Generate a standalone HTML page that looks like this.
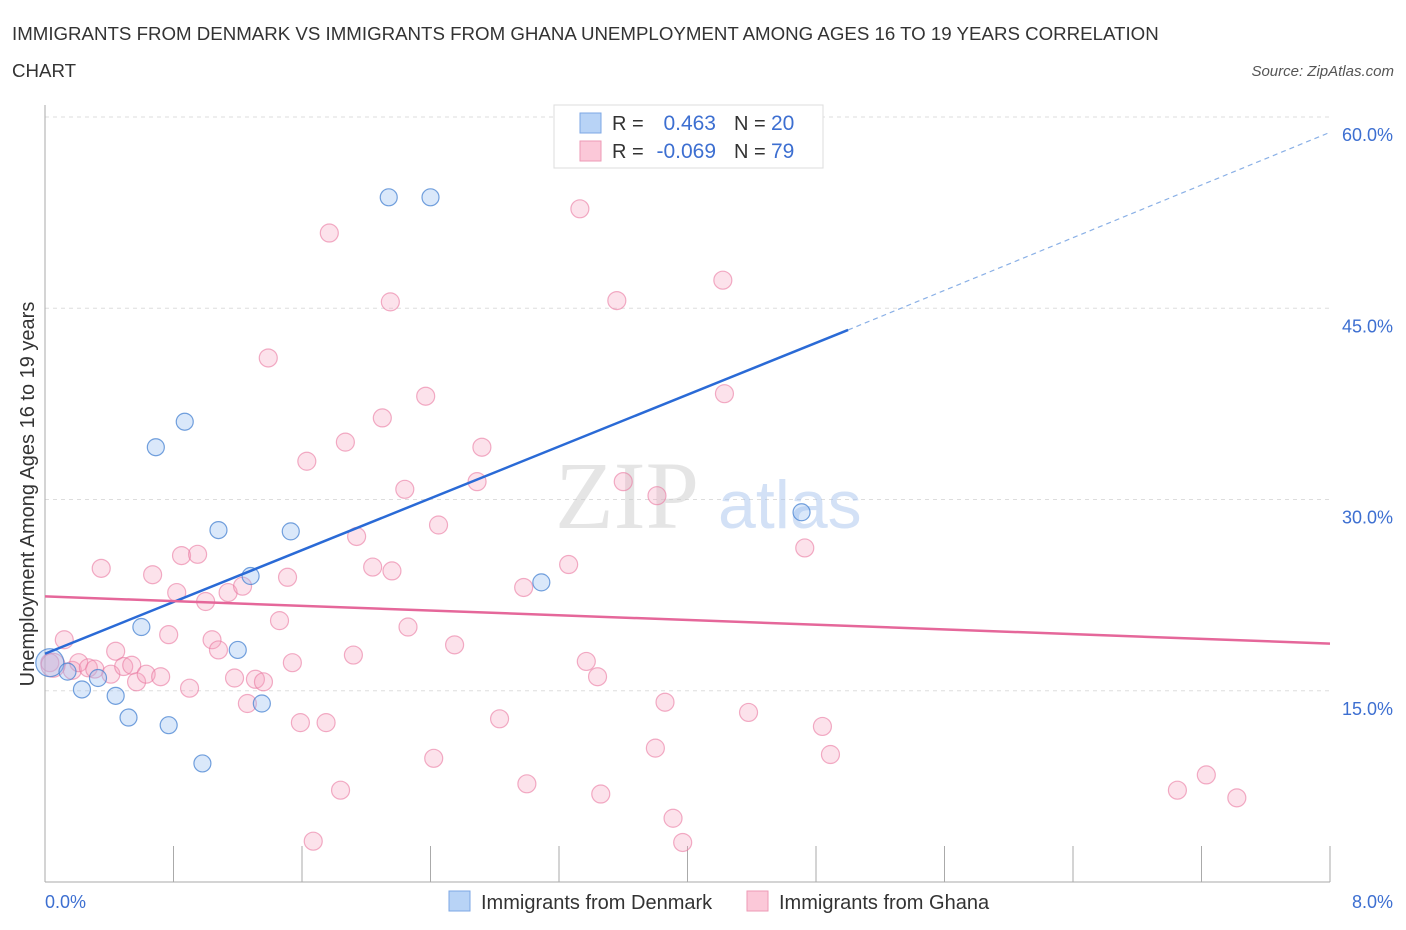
<!DOCTYPE html>
<html><head><meta charset="utf-8"><style>
body{margin:0;background:#fff;font-family:"Liberation Sans",sans-serif;}
svg{display:block}
</style></head><body>
<svg id="c" width="1406" height="930"></svg>
<script>
const blueX=[0.03,0.14,0.23,0.33,0.44,0.52,0.6,0.69,0.77,0.87,0.98,1.08,1.2,1.28,1.35,1.53,2.14,2.4,3.09,4.71];
const blueY=[17.2,16.5,15.1,16.0,14.6,12.9,20.0,34.1,12.3,36.1,9.3,27.6,18.2,24.0,14.0,27.5,53.7,53.7,23.5,29.0];
const pinkX=[0.03,0.12,0.17,0.21,0.27,0.31,0.35,0.41,0.44,0.49,0.54,0.57,0.63,0.67,0.72,0.77,0.82,0.85,0.9,0.95,1.0,1.04,1.08,1.14,1.18,1.23,1.26,1.31,1.36,1.39,1.46,1.51,1.54,1.59,1.63,1.67,1.75,1.77,1.84,1.87,1.92,1.94,2.04,2.1,2.15,2.16,2.24,2.26,2.37,2.42,2.45,2.55,2.69,2.72,2.83,2.98,3.0,3.26,3.33,3.37,3.44,3.46,3.56,3.6,3.8,3.81,3.86,3.91,3.97,4.22,4.23,4.38,4.73,4.84,4.89,7.05,7.23,7.42,0.05];
const pinkY=[17.2,19.0,16.6,17.2,16.8,16.7,24.6,16.3,18.1,16.9,17.0,15.7,16.3,24.1,16.1,19.4,22.7,25.6,15.2,25.7,22.0,19.0,18.2,22.7,16.0,23.2,14.0,15.9,15.7,41.1,20.5,23.9,17.2,12.5,33.0,3.2,12.5,50.9,7.2,34.5,17.8,27.1,24.7,36.4,45.5,24.4,30.8,20.0,38.1,9.7,28.0,18.6,31.4,34.1,12.8,23.1,7.7,24.9,52.8,17.3,16.1,6.9,45.6,31.4,10.5,30.3,14.1,5.0,3.1,47.2,38.3,13.3,26.2,12.2,10.0,7.2,8.4,6.6,17.0];
const ticksY=[15,30,45,60];
const W=1406,NS="http://www.w3.org/2000/svg",svg=document.getElementById('c');
const X0=45,X1=1330,Y0=882,PX=191.25/15;
const sx=v=>X0+(X1-X0)*v/8, sy=v=>Y0-v*PX;
function mk(t,a,n,i){const e=document.createElementNS(NS,t);for(const k in a)e.setAttribute(k,a[k]);svg.appendChild(e);return e;}
function txt(x,y,s,st,n){const e=mk('text',{x:x,y:y,style:st},n,false);e.textContent=s;return e;}
txt(12,40,"IMMIGRANTS FROM DENMARK VS IMMIGRANTS FROM GHANA UNEMPLOYMENT AMONG AGES 16 TO 19 YEARS CORRELATION","font-size:18.7px;fill:#333","chart-title");
txt(12,77,"CHART","font-size:18.7px;fill:#333","chart-title-line2");
txt(1394,76,"Source: ZipAtlas.com","font-size:15px;fill:#555;font-style:italic;text-anchor:end","source-label");
for(const t of ticksY){mk('line',{x1:X0,x2:X1,y1:sy(t),y2:sy(t),stroke:'#ddd','stroke-dasharray':'4,4'},'gridline-'+t,false);
txt(1393,sy(t)+24,t.toFixed(1)+"%","font-size:18px;fill:#3d6fd1;text-anchor:end",'y-tick-'+t);}
mk('line',{x1:X0,x2:X0,y1:105,y2:Y0,stroke:'#aaa'},'y-axis',false);
mk('line',{x1:X0,x2:X1,y1:Y0,y2:Y0,stroke:'#aaa'},'x-axis',false);
for(let i=1;i<=10;i++){const x=X0+(X1-X0)*i/10;mk('line',{x1:x,x2:x,y1:Y0-36,y2:Y0,stroke:'#aaa'},'x-tick',false);}
txt(45,908,"0.0%","font-size:18px;fill:#3d6fd1",'x-tick-min');
txt(1393,908,"8.0%","font-size:18px;fill:#3d6fd1;text-anchor:end",'x-tick-max');
const yl=txt(0,0,"Unemployment Among Ages 16 to 19 years","font-size:20px;fill:#333;text-anchor:middle",'y-axis-title');yl.setAttribute('transform','translate(34,494) rotate(-90)');
txt(555,528,"ZIP","font-size:96px;fill:#ccc;opacity:.5;font-family:'Liberation Serif',serif",'watermark-zip');
txt(718,528,"atlas","font-size:68px;fill:#a8c4ee;opacity:.5",'watermark-atlas');
pinkX.forEach((x,i)=>mk('circle',{cx:sx(x),cy:sy(pinkY[i]),r:i==pinkX.length-1?12:9,fill:'rgba(246,160,188,0.3)',stroke:'rgba(234,120,160,0.6)','stroke-width':1.2},'pink-point',false));
blueX.forEach((x,i)=>mk('circle',{cx:sx(x),cy:sy(blueY[i]),r:i==0?14:8.5,fill:'rgba(150,190,240,0.35)',stroke:'rgba(70,130,210,0.75)','stroke-width':1.2},'blue-point',false));
mk('line',{x1:sx(0),y1:sy(17.9),x2:sx(5),y2:sy(43.3),stroke:'#2a6ad6','stroke-width':2.5},'denmark-trendline',false);
mk('line',{x1:sx(5),y1:sy(43.3),x2:sx(8),y2:sy(58.8),stroke:'#8ab0e6','stroke-width':1.2,'stroke-dasharray':'5,4'},'denmark-trendline-ext',false);
mk('line',{x1:sx(0),y1:sy(22.4),x2:sx(8),y2:sy(18.7),stroke:'#e5679a','stroke-width':2.5},'ghana-trendline',false);
mk('rect',{x:554,y:105,width:269,height:63,fill:'#fff',stroke:'#ddd'},'legend-box',false);
mk('rect',{x:580,y:113,width:21,height:20,fill:'#b8d3f6',stroke:'#7da7e4'},'legend-swatch-blue',false);
mk('rect',{x:580,y:141,width:21,height:20,fill:'#fbc8d8',stroke:'#ee9ab6'},'legend-swatch-pink',false);
const lf="font-size:20px;fill:#333",lb="font-size:21px;fill:#3d6fd1";
txt(612,130,"R =",lf,'legend-r-label');txt(716,130,"0.463",lb+";text-anchor:end",'legend-r-blue');txt(734,130,"N =",lf,'legend-n-label');txt(771,130,"20",lb,'legend-n-blue');
txt(612,158,"R =",lf,'legend-r-label');txt(716,158,"-0.069",lb+";text-anchor:end",'legend-r-pink');txt(734,158,"N =",lf,'legend-n-label');txt(771,158,"79",lb,'legend-n-pink');
mk('rect',{x:449,y:891,width:21,height:20,fill:'#b8d3f6',stroke:'#7da7e4'},'bottom-legend-swatch-denmark',true);
txt(481,909,"Immigrants from Denmark","font-size:20px;fill:#333",'bottom-legend-denmark');
mk('rect',{x:747,y:891,width:21,height:20,fill:'#fbc8d8',stroke:'#ee9ab6'},'bottom-legend-swatch-ghana',true);
txt(779,909,"Immigrants from Ghana","font-size:20px;fill:#333",'bottom-legend-ghana');
</script>
</body></html>
